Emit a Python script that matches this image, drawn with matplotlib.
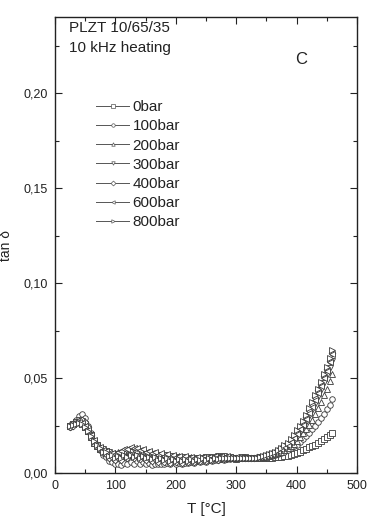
import numpy as np
import matplotlib
matplotlib.use("Agg")
import matplotlib.pyplot as plt
from matplotlib.ticker import MultipleLocator, FuncFormatter
from matplotlib.lines import Line2D

plt.rcParams['font.family'] = ['Liberation Sans', 'DejaVu Sans']

# temperature grid [C]
temps = [25, 30, 35, 40, 45, 50, 55, 60, 65, 70,
         75, 80, 85, 90, 95, 100, 105, 110, 115, 120,
         125, 130, 135, 140, 145, 150, 155, 160, 165, 170,
         175, 180, 185, 190, 195, 200, 205, 210, 215, 220,
         225, 230, 235, 240, 245, 250, 255, 260, 265, 270,
         275, 280, 285, 290, 295, 300, 305, 310, 315, 320,
         325, 330, 335, 340, 345, 350, 355, 360, 365, 370,
         375, 380, 385, 390, 395, 400, 405, 410, 415, 420,
         425, 430, 435, 440, 445, 450, 455, 458]

# tan delta values, in units of 1e-3
tan_0bar = [25, 26, 27, 27, 26, 24, 22, 19, 16, 14,
            12.5, 11, 11.5, 9.5, 10, 8.5, 9.5, 9, 10.5, 9.5,
            10.5, 9, 10, 8.5, 9.5, 8, 9, 7.5, 8.5, 7.5,
            8.5, 7.5, 8, 7, 8, 6.5, 7.5, 6.5, 7.5, 6.5,
            7, 6.5, 7.5, 7, 7.5, 7, 8, 7.5, 8, 7.5,
            8, 7.5, 8.5, 8, 8, 7.5, 8, 8, 8.5, 8,
            8, 8, 8, 8, 8, 8, 8, 8, 8.5, 8.5,
            8.5, 9, 9, 9.5, 10, 10.5, 11, 12, 12.5, 13.5,
            14, 15, 16, 17, 18, 19, 20, 21]
tan_100bar = [24, 26, 28, 30, 31, 29, 25, 21, 17, 14,
              12, 9.5, 8.5, 6.5, 6, 4.5, 5, 4, 5.5, 5,
              6, 5, 6.5, 5, 6, 4.5, 5.5, 4, 5, 4.5,
              5, 4.5, 5.5, 5, 6, 5, 5.5, 5, 5.5, 5.5,
              6, 5.5, 6.5, 6, 6.5, 6, 7, 6.5, 7, 7,
              7.5, 7, 7.5, 7.5, 8, 7.5, 8, 8, 8, 8,
              8, 8, 8, 8, 8.5, 8.5, 9, 9, 9.5, 10,
              10.5, 11, 12, 13, 14, 15, 16.5, 18, 19.5, 21,
              23, 25, 27, 29, 31, 33.5, 36, 39]
tan_200bar = [26, 26.5, 27, 27.5, 27, 25, 22, 19, 16, 14,
              12.5, 12, 11, 11, 10, 10.5, 11, 10.5, 12, 11.5,
              12.5, 11.5, 12, 10.5, 11.5, 10, 11, 9.5, 10, 9,
              9.5, 8.5, 9.5, 8, 9, 8, 9, 7.5, 8.5, 7.5,
              8.5, 7.5, 8, 7.5, 8.5, 8, 8.5, 8, 8.5, 8,
              8.5, 8, 8.5, 8, 8, 8, 8.5, 8, 8, 8,
              8, 8, 8, 8, 8.5, 8.5, 9, 9.5, 10, 10.5,
              11, 12, 13, 14, 15.5, 17, 19, 21, 23, 25.5,
              28, 31, 34, 37.5, 41, 44.5, 48.5, 52]
tan_300bar = [25, 26, 27, 28, 27.5, 26, 23, 20, 17, 15,
              13, 12.5, 10.5, 11, 9.5, 10, 9, 10.5, 10, 11.5,
              11, 12, 10.5, 11.5, 10, 10.5, 9.5, 10, 9, 9.5,
              8.5, 9.5, 8, 9, 7.5, 8.5, 7.5, 8.5, 7, 8,
              7, 8, 7, 8, 7.5, 8.5, 7.5, 8.5, 8, 9,
              8.5, 9, 8, 8.5, 8, 8, 8, 8.5, 8, 8,
              8, 8, 8, 8.5, 8.5, 9, 9.5, 10, 10.5, 11,
              12, 13, 14, 15.5, 17, 19, 21.5, 24, 27, 30,
              33, 36.5, 40, 43.5, 47.5, 51.5, 55.5, 59]
tan_400bar = [24, 25, 26.5, 27.5, 28, 27, 24, 20, 17, 14.5,
              12.5, 10.5, 10, 8, 8.5, 7, 8, 7, 9, 8,
              9.5, 8, 9, 7.5, 8.5, 7, 8, 6.5, 7.5, 6,
              7.5, 6, 7, 5.5, 7, 6, 7, 5.5, 7, 6,
              7, 6, 7, 6.5, 7.5, 6.5, 7.5, 7, 8, 7,
              8, 7.5, 8, 8, 8, 8, 8, 8, 8, 8,
              8, 8, 8.5, 8.5, 9, 9.5, 10, 10.5, 11, 12,
              13, 14, 15.5, 17, 19, 21, 23.5, 26.5, 29.5, 33,
              36.5, 40, 43.5, 47, 51, 55, 59, 63]
tan_600bar = [26, 26, 26.5, 27, 26.5, 25, 22.5, 20, 17.5, 15,
              13.5, 12, 11.5, 10.5, 10.5, 10, 11, 11.5, 12.5, 12.5,
              13.5, 13, 13, 12, 12.5, 11, 11.5, 10.5, 11, 9.5,
              10.5, 9, 10, 8.5, 9.5, 8.5, 9, 8, 9, 8,
              8.5, 8, 8.5, 7.5, 8.5, 8, 8.5, 8, 9, 8.5,
              9, 8.5, 9, 8.5, 8, 8.5, 8, 8, 8, 8,
              8, 8, 8, 8.5, 8.5, 9, 9.5, 10, 11, 11.5,
              12.5, 13.5, 15, 16.5, 18.5, 20.5, 23, 25.5, 28.5, 31.5,
              35, 38.5, 42, 46, 50, 54, 58.5, 62.5]
tan_800bar = [25, 25.5, 26, 26.5, 26, 24.5, 22, 19.5, 17, 15,
              13, 11, 11, 9, 9.5, 8, 9, 8, 9.5, 8.5,
              9.5, 8.5, 9.5, 8, 9, 8, 8.5, 7.5, 8.5, 7,
              8, 7, 8, 6.5, 7.5, 6.5, 7.5, 6.5, 7.5, 6.5,
              7.5, 6.5, 7.5, 7, 8, 7, 8, 7, 8, 7.5,
              8, 8, 8, 8, 8, 8, 8, 8, 8, 8,
              8, 8, 8, 8.5, 9, 9.5, 10, 10.5, 11, 12,
              13, 14.5, 16, 18, 20, 22.5, 25, 27.5, 30.5, 34,
              37.5, 41, 44.5, 48, 52, 56, 60.5, 65]

labels = ['0bar', '100bar', '200bar', '300bar', '400bar', '600bar', '800bar']
markers = ['s', 'o', '^', 'v', 'D', '<', '>']
series = [tan_0bar, tan_100bar, tan_200bar, tan_300bar,
          tan_400bar, tan_600bar, tan_800bar]

fig = plt.figure(figsize=(3.68, 5.19), dpi=100)
ax = fig.add_axes([0.1495, 0.0886, 0.8205, 0.8777])

for vals, m in zip(series, markers):
    ms = 3.4 if m == 'D' else 4.0
    ax.plot(temps, np.array(vals) / 1000.0, linestyle='none', marker=m,
            markersize=ms, markerfacecolor='white', markeredgecolor='#3a3a3a',
            markeredgewidth=0.6)

ax.set_xlim(0, 500)
ax.set_ylim(0, 0.24)
ax.xaxis.set_major_locator(MultipleLocator(100))
ax.xaxis.set_minor_locator(MultipleLocator(50))
ax.yaxis.set_major_locator(MultipleLocator(0.05))
ax.yaxis.set_minor_locator(MultipleLocator(0.025))
ax.yaxis.set_major_formatter(FuncFormatter(lambda v, p: ('%.2f' % v).replace('.', ',')))
ax.tick_params(which='both', direction='in', top=True, right=True,
               labelsize=9, width=0.8, colors='#222222')
ax.tick_params(which='major', length=5, pad=5)
ax.tick_params(which='minor', length=3)
for sp in ax.spines.values():
    sp.set_linewidth(1.0)
    sp.set_color('#222222')

ax.set_xlabel('T [°C]', fontsize=11, color='#222222', labelpad=7)
ax.set_ylabel('tan δ', fontsize=10, color='#222222', labelpad=8)

ax.text(0.045, 0.992, 'PLZT 10/65/35', transform=ax.transAxes, fontsize=11,
        va='top', ha='left', color='#222222')
ax.text(0.045, 0.949, '10 kHz heating', transform=ax.transAxes, fontsize=11,
        va='top', ha='left', color='#222222')
ax.text(0.815, 0.925, 'C', transform=ax.transAxes, fontsize=12,
        va='top', ha='center', color='#222222')

handles = [Line2D([], [], color='#555555', linewidth=0.7, marker=m,
                  markersize=2.5, markerfacecolor='white',
                  markeredgecolor='#555555', markeredgewidth=0.5)
           for m in markers]
ax.legend(handles, labels, loc='upper left', bbox_to_anchor=(0.115, 0.832),
          frameon=False, fontsize=11, handlelength=2.2, handletextpad=0.2,
          labelspacing=0.34, borderaxespad=0, labelcolor='#222222')

fig.savefig('out.png', dpi=100)
